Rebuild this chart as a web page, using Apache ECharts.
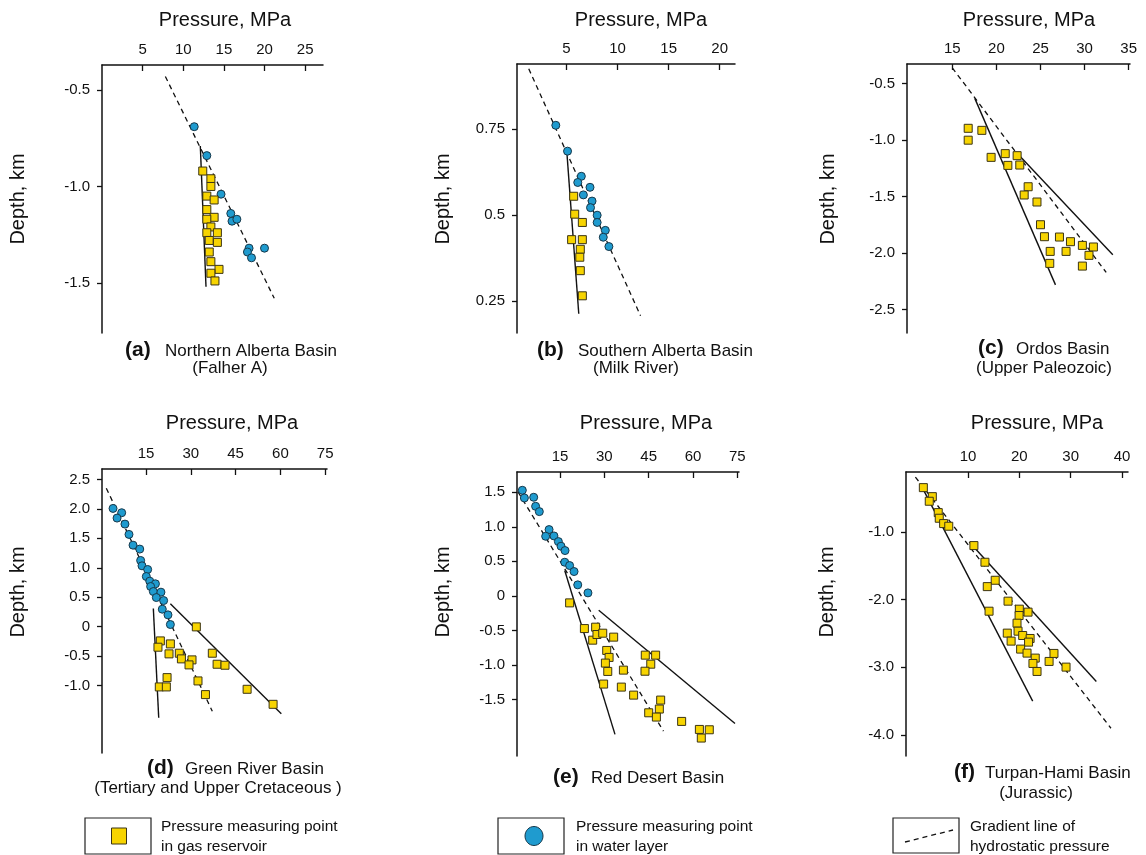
<!DOCTYPE html>
<html>
<head>
<meta charset="utf-8">
<title>Pressure vs depth</title>
<script src="https://cdn.jsdelivr.net/npm/echarts@6/dist/echarts.min.js"></script>
<style>
  html, body { margin: 0; padding: 0; background: #fff; }
  #main { width: 1146px; height: 855px; }
</style>
</head>
<body>
<div id="main"></div>
<script>
// pressure (MPa), depth (km)

// (a) Northern Alberta Basin
const gasA = [[12.4, -0.92], [13.4, -0.96], [13.4, -1.0], [12.9, -1.05], [13.8, -1.07], [12.9, -1.12], [13.8, -1.16], [12.9, -1.17], [13.4, -1.21], [14.2, -1.24], [12.9, -1.24], [13.2, -1.28], [14.2, -1.29], [13.2, -1.34], [13.4, -1.39], [14.4, -1.43], [13.4, -1.45], [13.9, -1.49]]
const waterA = [[11.35, -0.69], [12.9, -0.84], [14.65, -1.04], [15.85, -1.14], [16.0, -1.18], [16.6, -1.17], [18.1, -1.32], [17.9, -1.34], [18.4, -1.37], [20.0, -1.32]]
const hydroA = [[7.8, -0.43], [21.2, -1.58]]
const trendA = [[12.1, -0.79], [12.8, -1.52]]

// (b) Southern Alberta Basin
const gasB = [[5.7, 0.555], [5.8, 0.503], [6.55, 0.479], [5.5, 0.429], [6.55, 0.429], [6.35, 0.401], [6.3, 0.378], [6.35, 0.339], [6.55, 0.266]]
const waterB = [[3.95, 0.761], [5.1, 0.686], [6.45, 0.613], [6.1, 0.595], [6.65, 0.559], [7.3, 0.581], [7.5, 0.541], [7.35, 0.522], [8.0, 0.5], [8.0, 0.479], [8.8, 0.456], [8.6, 0.436], [9.15, 0.409]]
const hydroB = [[1.3, 0.925], [12.25, 0.208]]
const trendB = [[5.05, 0.676], [6.2, 0.214]]

// (c) Ordos Basin
const gasC = [[16.8, -0.895], [16.8, -1.0], [18.35, -0.913], [19.4, -1.152], [21.0, -1.119], [21.3, -1.223], [22.35, -1.137], [22.65, -1.22], [23.6, -1.412], [23.15, -1.485], [24.6, -1.547], [25.0, -1.748], [25.45, -1.854], [27.15, -1.857], [28.4, -1.898], [26.1, -1.984], [27.9, -1.984], [29.75, -1.931], [31.0, -1.945], [30.5, -2.019], [26.05, -2.09], [29.75, -2.114]]
const hydroC = [[15.0, -0.36], [32.45, -2.17]]
const trendC1 = [[17.55, -0.63], [26.7, -2.28]]
const trendC2 = [[22.35, -1.115], [33.2, -2.013]]

// (d) Green River Basin
const waterD = [[3.95, 2.007], [6.85, 1.934], [5.3, 1.843], [7.95, 1.741], [9.3, 1.566], [10.65, 1.384], [12.9, 1.317], [13.2, 1.124], [13.65, 1.033], [15.55, 0.971], [15.1, 0.852], [16.25, 0.773], [18.15, 0.728], [16.55, 0.682], [17.45, 0.597], [20.0, 0.586], [18.45, 0.495], [20.9, 0.444], [20.45, 0.297], [22.35, 0.201], [23.15, 0.037]]
const gasD = [[31.85, -0.003], [19.8, -0.241], [19.0, -0.348], [23.15, -0.292], [22.7, -0.461], [26.15, -0.45], [26.85, -0.546], [30.4, -0.563], [29.4, -0.648], [37.2, -0.45], [38.8, -0.637], [41.45, -0.654], [22.05, -0.864], [32.4, -0.92], [19.45, -1.022], [21.8, -1.022], [34.9, -1.152], [48.85, -1.062], [57.55, -1.317]]
const hydroD = [[1.7, 2.35], [37.2, -1.435]]
const trendD1 = [[17.45, 0.31], [19.25, -1.545]]
const trendD2 = [[23.15, 0.39], [60.3, -1.475]]

// (e) Red Desert Basin
const waterE = [[2.25, 1.529], [2.95, 1.418], [6.1, 1.428], [6.75, 1.297], [8.0, 1.22], [11.3, 0.96], [10.15, 0.863], [12.95, 0.868], [14.45, 0.786], [15.35, 0.719], [16.7, 0.656], [16.6, 0.487], [18.25, 0.439], [19.75, 0.352], [21.0, 0.159], [24.45, 0.043]]
const gasE = [[18.25, -0.102], [23.25, -0.474], [27.05, -0.454], [26.05, -0.642], [27.5, -0.56], [29.45, -0.541], [33.15, -0.598], [30.8, -0.791], [31.6, -0.892], [30.35, -0.974], [31.15, -1.095], [36.45, -1.076], [29.75, -1.278], [35.75, -1.322], [39.9, -1.438], [43.85, -0.859], [47.35, -0.859], [45.7, -0.99], [43.75, -1.092], [49.05, -1.51], [48.6, -1.64], [45.0, -1.694], [47.6, -1.756], [56.15, -1.819], [62.15, -1.935], [65.5, -1.94], [62.8, -2.06]]
const hydroE = [[0.8, 1.505], [50.0, -1.96]]
const trendE1 = [[16.6, 0.366], [33.6, -2.007]]
const trendE2 = [[28.1, -0.208], [74.2, -1.848]]

// (f) Turpan-Hami Basin
const gasF = [[1.3, -0.346], [3.05, -0.479], [2.45, -0.547], [4.2, -0.715], [4.4, -0.798], [5.25, -0.877], [6.25, -0.916], [11.15, -1.202], [13.3, -1.448], [15.3, -1.714], [13.75, -1.808], [14.1, -2.171], [17.8, -2.023], [20.0, -2.141], [19.95, -2.235], [21.7, -2.185], [19.55, -2.348], [19.75, -2.466], [17.65, -2.495], [20.65, -2.53], [22.1, -2.574], [21.8, -2.628], [18.4, -2.613], [20.25, -2.731], [21.5, -2.79], [23.1, -2.864], [22.65, -2.943], [23.45, -3.061], [25.8, -2.913], [26.75, -2.795], [29.1, -2.997]]
const hydroF = [[-0.25, -0.19], [37.85, -3.9]]
const trendF1 = [[1.2, -0.36], [22.6, -3.5]]
const trendF2 = [[10.25, -1.15], [35.0, -3.21]]

// tick labels
const xTicksA = [5, 10, 15, 20, 25]
const xTicksB = [5, 10, 15, 20]
const xTicksC = [15, 20, 25, 30, 35]
const xTicksD = [15, 30, 45, 60, 75]
const xTicksE = [15, 30, 45, 60, 75]
const xTicksF = [10, 20, 30, 40]
const yTicksA = [-0.5, -1.0, -1.5]
const yTicksB = [0.75, 0.5, 0.25]
const yTicksC = [-0.5, -1.0, -1.5, -2.0, -2.5]
const yTicksD = [2.5, 2.0, 1.5, 1.0, 0.5, 0, -0.5, -1.0]
const yTicksE = [1.5, 1.0, 0.5, 0, -0.5, -1.0, -1.5]
const yTicksF = [-1.0, -2.0, -3.0, -4.0]

const FONT = '"Liberation Sans", Arial, Helvetica, sans-serif'
const INK = '#111'
const GAS = '#f7d400'
const WATER = '#1f9bcf'

// 0.75 stays 0.75, 0 stays 0, everything else keeps one decimal
function fmtDepth(v) {
  if (v === 0) return '0'
  const s = String(v)
  return s.split('.')[1] && s.split('.')[1].length > 1 ? s : v.toFixed(1)
}

const panels = [
  { grid: [102, 65, 221, 268], x: [0, 27.2], y: [-1.76, -0.37], xt: xTicksA, yt: yTicksA,
    gas: gasA, water: waterA, hydro: hydroA, trends: [trendA] },
  { grid: [517, 64, 218, 269], x: [0.15, 21.5], y: [0.158, 0.939], xt: xTicksB, yt: yTicksB,
    gas: gasB, water: waterB, hydro: hydroB, trends: [trendB] },
  { grid: [907, 64, 223, 269], x: [9.86, 35.15], y: [-2.706, -0.326], xt: xTicksC, yt: yTicksC,
    gas: gasC, water: null, hydro: hydroC, trends: [trendC1, trendC2] },
  { grid: [102, 469, 225, 284], x: [0.26, 75.6], y: [-2.143, 2.676], xt: xTicksD, yt: yTicksD,
    gas: gasD, water: waterD, hydro: hydroD, trends: [trendD1, trendD2] },
  { grid: [517, 472, 222, 284], x: [0.45, 75.55], y: [-2.32, 1.794], xt: xTicksE, yt: yTicksE,
    gas: gasE, water: waterE, hydro: hydroE, trends: [trendE1, trendE2] },
  { grid: [906, 472, 222, 284], x: [-2.08, 41.17], y: [-4.31, -0.115], xt: xTicksF, yt: yTicksF,
    gas: gasF, water: null, hydro: hydroF, trends: [trendF1, trendF2] }
]

const grids = []
const xAxes = []
const yAxes = []
const series = []

panels.forEach(function(p, i) {
  grids.push({
    left: p.grid[0], top: p.grid[1], width: p.grid[2], height: p.grid[3],
    containLabel: false, outerBoundsMode: 'none', show: false
  })
  xAxes.push({
    gridIndex: i, type: 'value', position: 'top', min: p.x[0], max: p.x[1],
    axisLine: { onZero: false, lineStyle: { color: INK, width: 1.5 } },
    axisTick: { inside: true, length: 6, customValues: p.xt, lineStyle: { color: INK, width: 1.3 } },
    axisLabel: { customValues: p.xt, margin: 8, fontSize: 15, color: INK, fontFamily: FONT },
    splitLine: { show: false }
  })
  yAxes.push({
    gridIndex: i, type: 'value', min: p.y[0], max: p.y[1],
    axisLine: { show: true, onZero: false, lineStyle: { color: INK, width: 1.5 } },
    axisTick: { show: true, inside: false, length: 5, customValues: p.yt, lineStyle: { color: INK, width: 1.3 } },
    axisLabel: { customValues: p.yt, margin: 12, fontSize: 15, color: INK, fontFamily: FONT, formatter: fmtDepth },
    splitLine: { show: false }
  })

  series.push({
    type: 'line', xAxisIndex: i, yAxisIndex: i, data: p.hydro, symbol: 'none', silent: true, z: 2,
    lineStyle: { color: INK, width: 1.3, type: [5, 4] }
  })
  p.trends.forEach(function(t) {
    series.push({
      type: 'line', xAxisIndex: i, yAxisIndex: i, data: t, symbol: 'none', silent: true, z: 2,
      lineStyle: { color: INK, width: 1.4 }
    })
  })
  if (p.water) {
    series.push({
      type: 'scatter', xAxisIndex: i, yAxisIndex: i, data: p.water, symbol: 'circle', symbolSize: 8, z: 3,
      itemStyle: { color: WATER, borderColor: '#17384a', borderWidth: 1, opacity: 1 }
    })
  }
  series.push({
    type: 'scatter', xAxisIndex: i, yAxisIndex: i, data: p.gas, symbol: 'rect', symbolSize: 8, z: 4,
    itemStyle: { color: GAS, borderColor: '#3b3414', borderWidth: 1, opacity: 1 }
  })
})

// titles, axis names, captions
const titlePos = [[225, 20], [641, 20], [1029, 20], [232, 423], [646, 423], [1037, 423]]
const depthPos = [[18, 199], [443, 199], [828, 199], [18, 592], [443, 592], [827, 592]]
const captions = [
  { tag: '(a)', name: 'Northern Alberta Basin', x: 125, nx: 165, y: 350, sub: '(Falher A)', sx: 230, sy: 368 },
  { tag: '(b)', name: 'Southern Alberta Basin', x: 537, nx: 578, y: 350, sub: '(Milk River)', sx: 636, sy: 368 },
  { tag: '(c)', name: 'Ordos Basin', x: 978, nx: 1016, y: 348, sub: '(Upper Paleozoic)', sx: 1044, sy: 368 },
  { tag: '(d)', name: 'Green River Basin', x: 147, nx: 185, y: 768, sub: '(Tertiary and Upper Cretaceous )', sx: 218, sy: 788 },
  { tag: '(e)', name: 'Red Desert Basin', x: 553, nx: 591, y: 777, sub: '', sx: 0, sy: 0 },
  { tag: '(f)', name: 'Turpan-Hami Basin', x: 954, nx: 985, y: 772, sub: '(Jurassic)', sx: 1036, sy: 793 }
]

const graphics = []
function txt(x, y, text, size, align, extra) {
  return Object.assign({
    type: 'text', x: x, y: y, silent: true,
    style: { text: text, fill: INK, font: size + 'px ' + FONT, textAlign: align, textVerticalAlign: 'middle' }
  }, extra || {})
}
titlePos.forEach(function(t) { graphics.push(txt(t[0], t[1], 'Pressure, MPa', 20, 'center')) })
depthPos.forEach(function(t) { graphics.push(txt(t[0], t[1], 'Depth, km', 20, 'center', { rotation: Math.PI / 2 })) })
captions.forEach(function(c) {
  graphics.push(txt(c.x, c.y, c.tag, 'bold 21', 'left'))
  graphics.push(txt(c.nx, c.y + 1, c.name, 17, 'left'))
  if (c.sub) graphics.push(txt(c.sx, c.sy, c.sub, 17, 'center'))
})
// fix bold font string
graphics.forEach(function(g) {
  if (g.style.font.indexOf('bold 21px') === 0) g.style.font = 'bold 21px ' + FONT
})

// legend boxes at the bottom
const boxStyle = { fill: '#fff', stroke: '#222', lineWidth: 1.2 }
graphics.push({ type: 'rect', shape: { x: 85, y: 818, width: 66, height: 36 }, style: boxStyle, silent: true })
graphics.push({ type: 'rect', shape: { x: 111.5, y: 828, width: 15, height: 16 }, style: { fill: GAS, stroke: '#3b3414', lineWidth: 1 }, silent: true })
graphics.push(txt(161, 827, 'Pressure measuring point', 15.5, 'left'))
graphics.push(txt(161, 847, 'in gas reservoir', 15.5, 'left'))

graphics.push({ type: 'rect', shape: { x: 498, y: 818, width: 66, height: 36 }, style: boxStyle, silent: true })
graphics.push({ type: 'ellipse', shape: { cx: 534, cy: 836, rx: 9, ry: 9.5 }, style: { fill: WATER, stroke: '#17384a', lineWidth: 1 }, silent: true })
graphics.push(txt(576, 827, 'Pressure measuring point', 15.5, 'left'))
graphics.push(txt(576, 847, 'in water layer', 15.5, 'left'))

graphics.push({ type: 'rect', shape: { x: 893, y: 818, width: 66, height: 35 }, style: boxStyle, silent: true })
graphics.push({ type: 'line', shape: { x1: 905, y1: 842, x2: 953, y2: 830 }, style: { stroke: INK, lineWidth: 1.3, lineDash: [5, 4] }, silent: true })
graphics.push(txt(970, 827, 'Gradient line of', 15.5, 'left'))
graphics.push(txt(970, 847, 'hydrostatic pressure', 15.5, 'left'))

const myChart = echarts.init(document.getElementById('main'))
myChart.setOption({
  backgroundColor: '#fff',
  animation: false,
  textStyle: { fontFamily: FONT },
  grid: grids,
  xAxis: xAxes,
  yAxis: yAxes,
  series: series,
  graphic: graphics
})
</script>
</body>
</html>
